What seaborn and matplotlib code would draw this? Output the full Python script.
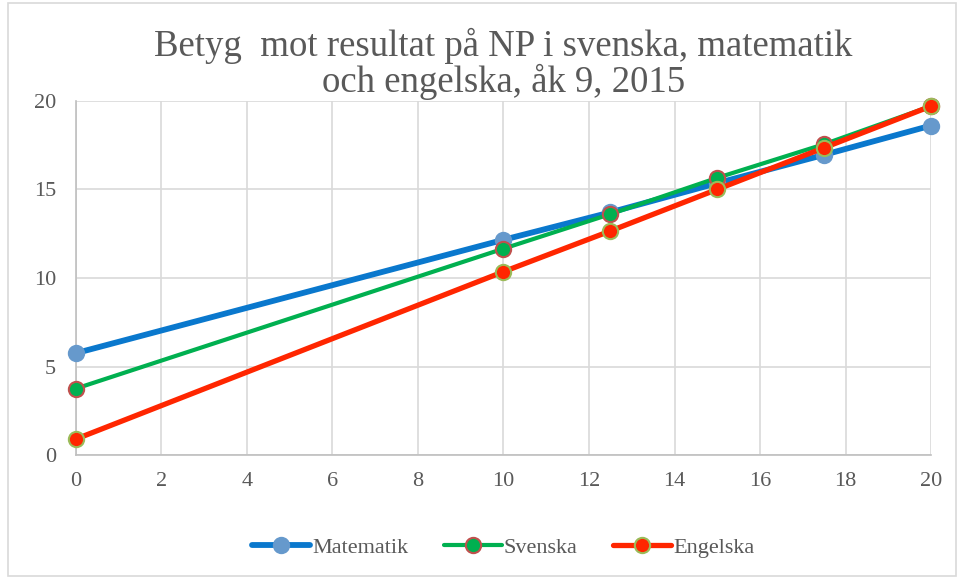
import seaborn as sns
import pandas as pd
import matplotlib.pyplot as plt
from matplotlib.patches import Rectangle

# data
resultat = [0, 10, 12.5, 15, 17.5, 20]
matematik = [5.75, 12.15, 13.7, 15.35, 16.95, 18.6]
svenska = [3.75, 11.65, 13.6, 15.65, 17.55, 19.7]
engelska = [0.9, 10.35, 12.65, 15.0, 17.35, 19.7]
amnen = ['Matematik', 'Svenska', 'Engelska']

df = pd.DataFrame({'x': resultat * 3,
                   'y': matematik + svenska + engelska,
                   'amne': [a for a in amnen for _ in resultat]})

styles = {
    'Matematik': dict(color='#0a78cd', lw=4.2, mfc='#6699cc', mec='#6699cc'),
    'Svenska': dict(color='#00b050', lw=3.0, mfc='#00b050', mec='#c0504d'),
    'Engelska': dict(color='#ff2600', lw=3.8, mfc='#ff2600', mec='#9bbb59'),
}

sns.set_style('white')
plt.rcParams['font.family'] = ['Liberation Serif', 'DejaVu Serif']

fig, ax = plt.subplots(figsize=(9.58, 5.79), dpi=100)
fig.subplots_adjust(left=0.079, right=0.972, top=0.826, bottom=0.214)

for amne in amnen:
    s = styles[amne]
    sns.lineplot(data=df[df.amne == amne], x='x', y='y', ax=ax, color=s['color'],
                 linewidth=s['lw'], marker='o', markersize=11,
                 markerfacecolor=s['mfc'], markeredgecolor=s['mec'],
                 markeredgewidth=1.5, label=amne, zorder=3, clip_on=False)

ax.set_xlim(0, 20)
ax.set_ylim(0, 20)
ax.set_xticks(range(0, 21, 2))
ax.set_yticks(range(0, 21, 5))
ax.set_xlabel('')
ax.set_ylabel('')
ax.grid(True, color='#d9d9d9', linewidth=1.2)
for side in ['top', 'right']:
    ax.spines[side].set_visible(False)
for side in ['left', 'bottom']:
    ax.spines[side].set_color('#bfbfbf')
    ax.spines[side].set_linewidth(1.2)
ax.tick_params(axis='x', length=0, labelsize=16, labelcolor='#595959', pad=12)
ax.tick_params(axis='y', length=0, labelsize=16, labelcolor='#595959', pad=14)

ax.set_title('Betyg  mot resultat på NP i svenska, matematik\noch engelska, åk 9, 2015',
             fontsize=26.5, color='#595959', linespacing=1.0, pad=6)

ax.legend(loc='upper center', bbox_to_anchor=(0.5, -0.175), ncol=3, frameon=False,
          fontsize=16, labelcolor='#595959', handlelength=2.6, handletextpad=0.1,
          columnspacing=1.6)

fig.patches.append(Rectangle((0.008, 0.005), 0.99, 0.99, transform=fig.transFigure,
                             fill=False, edgecolor='#d9d9d9', linewidth=1.2))

plt.savefig('out.png', dpi=100)
